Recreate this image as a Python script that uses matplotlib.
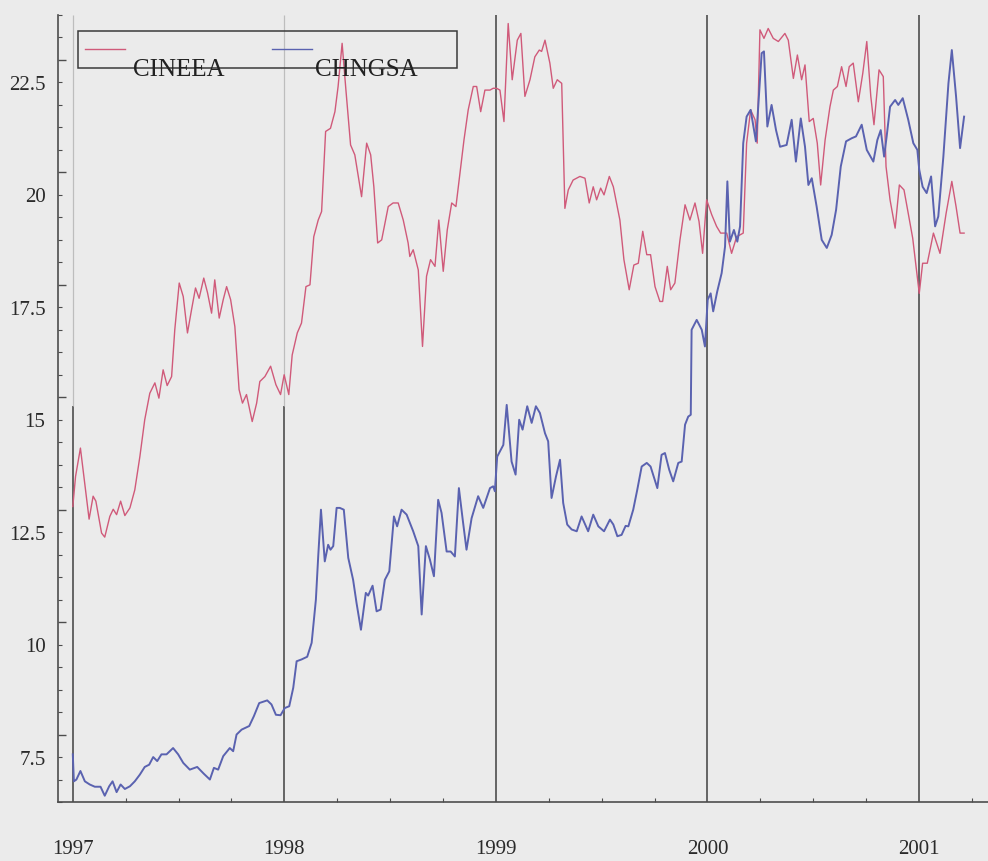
import matplotlib
matplotlib.use("Agg")
import matplotlib.pyplot as plt
from matplotlib.ticker import MultipleLocator
from matplotlib.transforms import ScaledTranslation
from matplotlib.patches import Rectangle

plt.rcParams['font.family'] = ['Liberation Serif', 'DejaVu Serif']

# weekly-ish series, time in decimal years
cineea_t = [1997.000, 1997.013, 1997.036, 1997.077, 1997.096, 1997.109, 1997.136, 1997.151,
            1997.175, 1997.191, 1997.207, 1997.226, 1997.246, 1997.270, 1997.293, 1997.317,
            1997.340, 1997.364, 1997.388, 1997.407, 1997.427, 1997.446, 1997.467, 1997.482,
            1997.503, 1997.522, 1997.542, 1997.561, 1997.580, 1997.597, 1997.619, 1997.637,
            1997.656, 1997.671, 1997.692, 1997.711, 1997.727, 1997.746, 1997.766, 1997.786,
            1997.802, 1997.821, 1997.848, 1997.869, 1997.884, 1997.908, 1997.935, 1997.960,
            1997.982, 1997.999, 1998.021, 1998.037, 1998.061, 1998.081, 1998.102, 1998.121,
            1998.139, 1998.160, 1998.176, 1998.195, 1998.218, 1998.239, 1998.254, 1998.273,
            1998.291, 1998.313, 1998.333, 1998.365, 1998.389, 1998.408, 1998.423, 1998.441,
            1998.460, 1998.491, 1998.514, 1998.538, 1998.562, 1998.585, 1998.593, 1998.609,
            1998.633, 1998.653, 1998.672, 1998.691, 1998.712, 1998.730, 1998.751, 1998.770,
            1998.791, 1998.811, 1998.830, 1998.849, 1998.869, 1998.893, 1998.909, 1998.928,
            1998.948, 1998.972, 1998.987, 1999.003, 1999.019, 1999.038, 1999.058, 1999.077,
            1999.101, 1999.118, 1999.137, 1999.161, 1999.184, 1999.205, 1999.216, 1999.232,
            1999.255, 1999.271, 1999.290, 1999.311, 1999.326, 1999.342, 1999.365, 1999.397,
            1999.421, 1999.441, 1999.460, 1999.476, 1999.495, 1999.511, 1999.536, 1999.555,
            1999.586, 1999.605, 1999.630, 1999.652, 1999.673, 1999.694, 1999.713, 1999.731,
            1999.752, 1999.775, 1999.788, 1999.810, 1999.826, 1999.846, 1999.870, 1999.894,
            1999.917, 1999.941, 1999.960, 1999.977, 1999.996, 2000.020, 2000.043, 2000.062,
            2000.091, 2000.114, 2000.138, 2000.169, 2000.185, 2000.204, 2000.225, 2000.235,
            2000.248, 2000.267, 2000.287, 2000.311, 2000.335, 2000.366, 2000.382, 2000.406,
            2000.425, 2000.445, 2000.461, 2000.481, 2000.500, 2000.519, 2000.535, 2000.556,
            2000.579, 2000.595, 2000.614, 2000.634, 2000.655, 2000.670, 2000.689, 2000.713,
            2000.734, 2000.753, 2000.772, 2000.787, 2000.811, 2000.831, 2000.844, 2000.863,
            2000.887, 2000.907, 2000.929, 2000.949, 2000.970, 2001.001, 2001.017, 2001.039,
            2001.068, 2001.099, 2001.128, 2001.155, 2001.175, 2001.194, 2001.213]
cineea_v = [12.57, 13.24, 13.87, 12.29, 12.80, 12.69, 11.98, 11.89,
            12.35, 12.51, 12.39, 12.69, 12.37, 12.54, 12.94, 13.68,
            14.50, 15.09, 15.32, 14.98, 15.61, 15.26, 15.46, 16.50,
            17.54, 17.24, 16.43, 16.94, 17.43, 17.20, 17.65, 17.32,
            16.87, 17.61, 16.76, 17.17, 17.46, 17.17, 16.57, 15.17,
            14.87, 15.06, 14.46, 14.87, 15.35, 15.46, 15.69, 15.28,
            15.06, 15.50, 15.06, 15.94, 16.43, 16.65, 17.46, 17.50,
            18.57, 18.94, 19.13, 20.91, 20.98, 21.35, 21.91, 22.87,
            21.83, 20.61, 20.39, 19.46, 20.65, 20.39, 19.68, 18.43,
            18.50, 19.24, 19.32, 19.32, 18.94, 18.43, 18.13, 18.28,
            17.83, 16.13, 17.69, 18.06, 17.91, 18.94, 17.80, 18.72,
            19.32, 19.24, 19.98, 20.72, 21.39, 21.91, 21.91, 21.35,
            21.83, 21.83, 21.87, 21.87, 21.83, 21.13, 23.31, 22.06,
            22.94, 23.09, 21.69, 22.06, 22.57, 22.72, 22.69, 22.94,
            22.43, 21.87, 22.06, 21.98, 19.20, 19.61, 19.83, 19.91,
            19.87, 19.32, 19.68, 19.39, 19.65, 19.50, 19.91, 19.68,
            18.94, 18.06, 17.39, 17.94, 17.98, 18.69, 18.17, 18.17,
            17.46, 17.13, 17.13, 17.91, 17.39, 17.54, 18.50, 19.28,
            18.94, 19.32, 18.91, 18.20, 19.39, 19.06, 18.80, 18.65,
            18.65, 18.20, 18.57, 18.65, 20.65, 21.39, 21.17, 20.65,
            23.17, 22.98, 23.20, 22.98, 22.91, 23.09, 22.94, 22.09,
            22.61, 22.06, 22.39, 21.13, 21.20, 20.65, 19.72, 20.72,
            21.46, 21.83, 21.91, 22.35, 21.91, 22.35, 22.43, 21.57,
            22.20, 22.91, 21.69, 21.06, 22.28, 22.13, 20.13, 19.39,
            18.76, 19.72, 19.61, 19.09, 18.54, 17.31, 17.98, 17.98,
            18.65, 18.20, 19.09, 19.80, 19.24, 18.65, 18.65]

chngsa_t = [1997.000, 1997.005, 1997.017, 1997.036, 1997.057, 1997.080, 1997.104, 1997.131,
            1997.151, 1997.172, 1997.188, 1997.207, 1997.226, 1997.246, 1997.270, 1997.293,
            1997.317, 1997.340, 1997.361, 1997.380, 1997.399, 1997.419, 1997.443, 1997.474,
            1997.498, 1997.522, 1997.553, 1997.588, 1997.619, 1997.648, 1997.667, 1997.687,
            1997.711, 1997.742, 1997.758, 1997.774, 1997.798, 1997.834, 1997.856, 1997.881,
            1997.919, 1997.939, 1997.960, 1997.982, 1998.002, 1998.023, 1998.042, 1998.058,
            1998.081, 1998.108, 1998.129, 1998.149, 1998.160, 1998.173, 1998.191, 1998.207,
            1998.218, 1998.231, 1998.247, 1998.262, 1998.281, 1998.302, 1998.325, 1998.341,
            1998.362, 1998.385, 1998.396, 1998.417, 1998.436, 1998.455, 1998.475, 1998.496,
            1998.518, 1998.533, 1998.554, 1998.578, 1998.609, 1998.633, 1998.649, 1998.669,
            1998.688, 1998.707, 1998.727, 1998.743, 1998.767, 1998.786, 1998.806, 1998.825,
            1998.843, 1998.861, 1998.885, 1998.916, 1998.940, 1998.972, 1998.987, 1998.995,
            1999.006, 1999.035, 1999.051, 1999.074, 1999.093, 1999.110, 1999.126, 1999.148,
            1999.169, 1999.189, 1999.208, 1999.232, 1999.247, 1999.263, 1999.284, 1999.303,
            1999.318, 1999.337, 1999.358, 1999.382, 1999.405, 1999.436, 1999.460, 1999.484,
            1999.511, 1999.539, 1999.555, 1999.574, 1999.594, 1999.613, 1999.626, 1999.649,
            1999.668, 1999.689, 1999.713, 1999.731, 1999.763, 1999.783, 1999.799, 1999.819,
            1999.838, 1999.862, 1999.878, 1999.894, 1999.909, 1999.921, 1999.925, 1999.949,
            1999.973, 1999.988, 2000.001, 2000.015, 2000.027, 2000.046, 2000.067, 2000.083,
            2000.094, 2000.106, 2000.125, 2000.141, 2000.154, 2000.169, 2000.185, 2000.204,
            2000.217, 2000.229, 2000.242, 2000.256, 2000.267, 2000.283, 2000.303, 2000.324,
            2000.343, 2000.374, 2000.398, 2000.418, 2000.441, 2000.461, 2000.477, 2000.493,
            2000.516, 2000.540, 2000.564, 2000.587, 2000.608, 2000.630, 2000.655, 2000.682,
            2000.702, 2000.729, 2000.753, 2000.784, 2000.803, 2000.819, 2000.835, 2000.847,
            2000.863, 2000.887, 2000.902, 2000.923, 2000.949, 2000.973, 2000.992, 2001.001,
            2001.017, 2001.036, 2001.057, 2001.076, 2001.091, 2001.115, 2001.139, 2001.155,
            2001.175, 2001.194, 2001.213]
chngsa_v = [7.06, 6.46, 6.50, 6.69, 6.46, 6.39, 6.34, 6.34,
            6.14, 6.35, 6.46, 6.22, 6.39, 6.29, 6.35, 6.46,
            6.61, 6.78, 6.83, 7.00, 6.91, 7.06, 7.06, 7.20,
            7.06, 6.87, 6.72, 6.78, 6.63, 6.50, 6.76, 6.72,
            7.02, 7.20, 7.13, 7.50, 7.61, 7.69, 7.91, 8.20,
            8.26, 8.17, 7.94, 7.93, 8.09, 8.13, 8.54, 9.13,
            9.17, 9.23, 9.54, 10.50, 11.46, 12.50, 11.35, 11.72,
            11.61, 11.69, 12.54, 12.54, 12.50, 11.43, 10.94, 10.43,
            9.83, 10.65, 10.59, 10.81, 10.24, 10.28, 10.94, 11.13,
            12.35, 12.13, 12.50, 12.39, 12.02, 11.69, 10.17, 11.69,
            11.39, 11.02, 12.72, 12.43, 11.57, 11.57, 11.46, 12.98,
            12.28, 11.61, 12.31, 12.80, 12.54, 12.98, 13.02, 12.91,
            13.68, 13.94, 14.83, 13.57, 13.28, 14.50, 14.28, 14.80,
            14.43, 14.80, 14.65, 14.20, 14.02, 12.76, 13.24, 13.61,
            12.65, 12.17, 12.06, 12.02, 12.35, 12.02, 12.39, 12.13,
            12.02, 12.28, 12.17, 11.91, 11.94, 12.14, 12.13, 12.50,
            12.94, 13.46, 13.54, 13.46, 12.98, 13.72, 13.76, 13.39,
            13.13, 13.54, 13.57, 14.39, 14.57, 14.61, 16.50, 16.72,
            16.50, 16.13, 17.17, 17.31, 16.91, 17.35, 17.76, 18.35,
            19.80, 18.46, 18.72, 18.46, 18.80, 20.65, 21.24, 21.39,
            21.02, 20.69, 21.61, 22.65, 22.69, 21.02, 21.50, 20.94,
            20.57, 20.61, 21.17, 20.24, 21.20, 20.57, 19.72, 19.87,
            19.24, 18.50, 18.32, 18.61, 19.17, 20.13, 20.69, 20.76,
            20.80, 21.06, 20.50, 20.24, 20.72, 20.94, 20.35, 20.80,
            21.46, 21.61, 21.50, 21.65, 21.17, 20.65, 20.50, 20.06,
            19.68, 19.54, 19.91, 18.80, 19.02, 20.35, 21.98, 22.72,
            21.69, 20.54, 21.24]

series_names = ["CINEEA", "CHNGSA"]
years = [1997, 1998, 1999, 2000, 2001]
y_ticks = [7.5, 10, 12.5, 15, 17.5, 20, 22.5]
y_labels = ["7.5", "10", "12.5", "15", "17.5", "20", "22.5"]

BG = "#ebebeb"
RED = "#d05a7a"
BLUE = "#5a62b0"
AXIS = "#4d4d4d"

fig = plt.figure(figsize=(9.88, 8.61), dpi=100, facecolor=BG)
ax = fig.add_axes([0.0587, 0.0685, 0.9413, 0.9141])
ax.set_facecolor(BG)
ax.set_xlim(1996.93, 2001.326)
ax.set_ylim(6.0, 23.5)

# year separators; the first two fade out in the upper half
for yr in years:
    if yr < 1999:
        ax.vlines(yr, 6.0, 14.8, color=AXIS, lw=1.2, zorder=1)
        ax.vlines(yr, 14.8, 23.5, color="#bdbdbd", lw=0.9, zorder=1)
    else:
        ax.vlines(yr, 6.0, 23.5, color=AXIS, lw=1.2, zorder=1)

ax.plot(cineea_t, cineea_v, color=RED, lw=1.0, zorder=3)
ax.plot(chngsa_t, chngsa_v, color=BLUE, lw=1.4, zorder=3)

for side in ["top", "right"]:
    ax.spines[side].set_visible(False)
for side in ["left", "bottom"]:
    ax.spines[side].set_color(AXIS)
    ax.spines[side].set_linewidth(1.2)

ax.set_yticks(y_ticks)
ax.set_yticklabels(y_labels)
ax.yaxis.set_minor_locator(MultipleLocator(0.5))
ax.set_xticks(years)
ax.set_xticklabels([str(y) for y in years])
ax.xaxis.set_minor_locator(MultipleLocator(0.25))

ax.tick_params(axis="y", which="major", direction="in", length=6, width=1,
               color=AXIS, labelsize=15, labelcolor="#2a2a2a", pad=9)
ax.tick_params(axis="y", which="minor", direction="in", length=3, width=0.8, color=AXIS)
ax.tick_params(axis="x", which="major", direction="in", length=0,
               labelsize=15, labelcolor="#2a2a2a", pad=27)
ax.tick_params(axis="x", which="minor", direction="in", length=3, width=0.8, color=AXIS)

# value labels sit a little below their ticks
shift = ScaledTranslation(0, -0.23, fig.dpi_scale_trans)
for lbl in ax.get_yticklabels():
    lbl.set_transform(lbl.get_transform() + shift)

# legend box, names straddle the lower border
ax.add_patch(Rectangle((0.0215, 0.9327), 0.4075, 0.047, transform=ax.transAxes,
                       fill=False, ec="#3a3a3a", lw=1.1, zorder=5))
for x0, col, name, tx in [(0.029, RED, series_names[0], 0.130),
                          (0.230, BLUE, series_names[1], 0.331)]:
    ax.plot([x0, x0 + 0.043], [0.9568, 0.9568], transform=ax.transAxes,
            color=col, lw=1.0, zorder=5)
    ax.text(tx, 0.9225, name, transform=ax.transAxes, ha="center", va="baseline",
            fontsize=18, color="#222222", zorder=6)

fig.savefig("out.png", dpi=100, facecolor=BG)
